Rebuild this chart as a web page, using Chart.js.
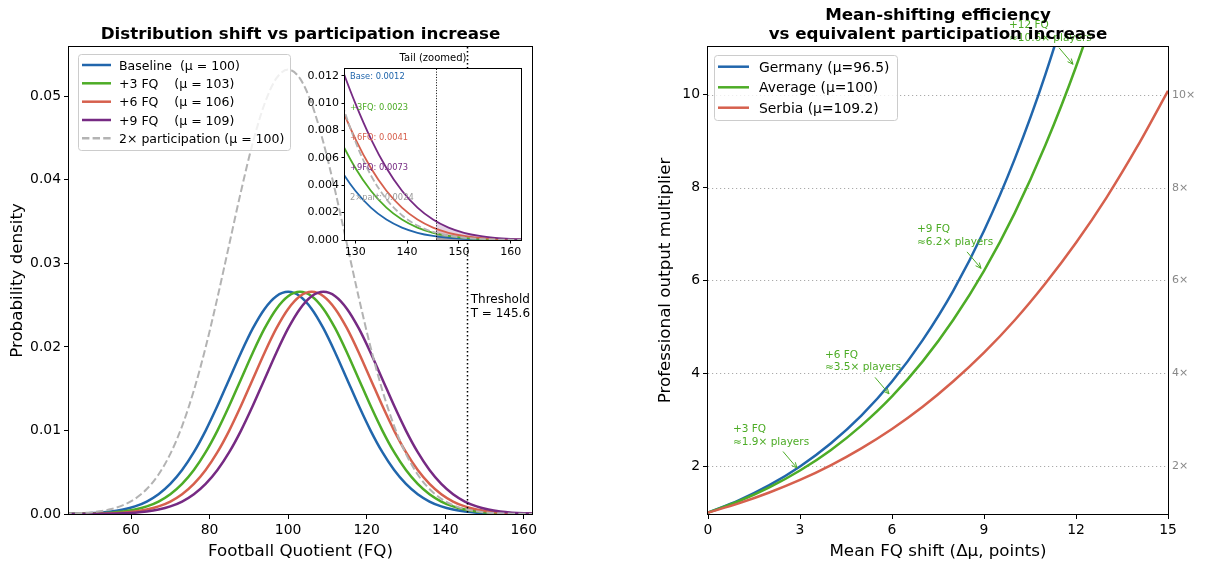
<!DOCTYPE html>
<html><head><meta charset="utf-8">
<script src="https://cdn.jsdelivr.net/npm/chart.js@4.4.0/dist/chart.umd.min.js"></script>
<style>
html,body{margin:0;padding:0;background:#fff;}
#wrap{position:relative;width:1205px;height:563px;overflow:hidden;background:#fff;}
canvas{position:absolute;}
</style></head><body>
<div id="wrap">
<canvas id="left" width="600" height="563" style="left:0;top:0;width:600px;height:563px"></canvas>
<canvas id="right" width="605" height="563" style="left:600px;top:0;width:605px;height:563px"></canvas>
<canvas id="inset" width="235" height="225" style="left:300px;top:45px;width:235px;height:225px"></canvas>
</div>
<script>
// ---------------- DATA ----------------
const fqGrid = [43,46,49,52,55,58,61,64,67,70,73,76,79,82,85,88,91,94,97,100,103,106,109,112,115,118,121,124,127,130,133,136,139,142,145,148,151,154,157,160,163];
const pdfBaseline = [0.0000195,0.0000408,0.0000822,0.000159,0.000295,0.000528,0.000906,0.001493,0.002365,0.003599,0.005263,0.007395,0.009982,0.012946,0.016132,0.019313,0.022215,0.024552,0.026070,0.026596,0.026070,0.024552,0.022215,0.019313,0.016132,0.012946,0.009982,0.007395,0.005263,0.003599,0.002365,0.001493,0.000906,0.000528,0.000295,0.000159,0.0000822,0.0000408,0.0000195,0.0000089,0.0000039];
const pdfPlus3 = [0.0000089,0.0000195,0.0000408,0.0000822,0.000159,0.000295,0.000528,0.000906,0.001493,0.002365,0.003599,0.005263,0.007395,0.009982,0.012946,0.016132,0.019313,0.022215,0.024552,0.026070,0.026596,0.026070,0.024552,0.022215,0.019313,0.016132,0.012946,0.009982,0.007395,0.005263,0.003599,0.002365,0.001493,0.000906,0.000528,0.000295,0.000159,0.0000822,0.0000408,0.0000195,0.0000089];
const pdfPlus6 = [0.0000039,0.0000089,0.0000195,0.0000408,0.0000822,0.000159,0.000295,0.000528,0.000906,0.001493,0.002365,0.003599,0.005263,0.007395,0.009982,0.012946,0.016132,0.019313,0.022215,0.024552,0.026070,0.026596,0.026070,0.024552,0.022215,0.019313,0.016132,0.012946,0.009982,0.007395,0.005263,0.003599,0.002365,0.001493,0.000906,0.000528,0.000295,0.000159,0.0000822,0.0000408,0.0000195];
const pdfPlus9 = [0.0000017,0.0000039,0.0000089,0.0000195,0.0000408,0.0000822,0.000159,0.000295,0.000528,0.000906,0.001493,0.002365,0.003599,0.005263,0.007395,0.009982,0.012946,0.016132,0.019313,0.022215,0.024552,0.026070,0.026596,0.026070,0.024552,0.022215,0.019313,0.016132,0.012946,0.009982,0.007395,0.005263,0.003599,0.002365,0.001493,0.000906,0.000528,0.000295,0.000159,0.0000822,0.0000408];
const pdfDouble = [0.000039,0.0000816,0.000164,0.000318,0.00059,0.001056,0.001812,0.002986,0.00473,0.007198,0.010526,0.01479,0.019964,0.025892,0.032264,0.038626,0.04443,0.049104,0.05214,0.053192,0.05214,0.049104,0.04443,0.038626,0.032264,0.025892,0.019964,0.01479,0.010526,0.007198,0.00473,0.002986,0.001812,0.001056,0.00059,0.000318,0.000164,0.0000816,0.000039,0.0000178,0.0000078];
// density of each curve exactly at the threshold (start of the shaded tail)
const pdfAtThreshold = [0.000262, 0.000472, 0.000816, 0.001355, 0.000524];
const seriesLabels = ["Baseline  (\u03bc = 100)", "+3 FQ    (\u03bc = 103)", "+6 FQ    (\u03bc = 106)", "+9 FQ    (\u03bc = 109)", "2\u00d7 participation (\u03bc = 100)"];
const thresholdFQ = 145.6;
const tailLabels = ["Base: 0.0012", "+3FQ: 0.0023", "+6FQ: 0.0041", "+9FQ: 0.0073", "2\u00d7part: 0.0024"];

const shiftGrid = [0,1,2,3,4,5,6,7,8,9,10,11,12,13,14,15];
const multGermany = [1,1.265,1.591,1.994,2.489,3.090,3.824,4.716,5.783,7.070,8.614,10.435,12.605,15.168,18.153,21.66];
const multAverage = [1,1.245,1.545,1.907,2.345,2.875,3.504,4.258,5.155,6.208,7.452,8.913,10.604,12.578,14.866,17.476];
const multSerbia  = [1,1.199,1.433,1.704,2.019,2.385,2.802,3.280,3.829,4.446,5.144,5.935,6.812,7.792,8.887,10.086];
const countryLabels = ["Germany (\u03bc=96.5)", "Average (\u03bc=100)", "Serbia (\u03bc=109.2)"];
const annotShifts = [3,6,9,12];
const annotTitles = ["+3 FQ","+6 FQ","+9 FQ","+12 FQ"];
const annotTexts = ["\u22481.9\u00d7 players","\u22483.5\u00d7 players","\u22486.2\u00d7 players","\u224810.6\u00d7 players"];

const leftXTicks = [60,80,100,120,140,160];
const leftXTickLabels = ["60","80","100","120","140","160"];
const leftYTicks = [0,0.01,0.02,0.03,0.04,0.05];
const leftYTickLabels = ["0.00","0.01","0.02","0.03","0.04","0.05"];
const insetXTicks = [130,140,150,160];
const insetXTickLabels = ["130","140","150","160"];
const insetYTicks = [0,0.002,0.004,0.006,0.008,0.010,0.012];
const insetYTickLabels = ["0.000","0.002","0.004","0.006","0.008","0.010","0.012"];
const rightXTicks = [0,3,6,9,12,15];
const rightXTickLabels = ["0","3","6","9","12","15"];
const rightYTicks = [2,4,6,8,10];
const rightYTickLabels = ["2","4","6","8","10"];
const rightSideLabels = ["2\u00d7","4\u00d7","6\u00d7","8\u00d7","10\u00d7"];

// ---------------- STYLE ----------------
const FONT = "'DejaVu Sans', sans-serif";
Chart.defaults.font.family = FONT;
Chart.defaults.color = '#000';
const C_BLUE = '#2166ac', C_GREEN = '#4dac26', C_RED = '#d6604d', C_PURPLE = '#762a83', C_GRAY = '#b3b3b3';
const seriesColors = [C_BLUE, C_GREEN, C_RED, C_PURPLE, C_GRAY];
const countryColors = [C_BLUE, C_GREEN, C_RED];

const toXY = (xs, ys) => xs.map((x, i) => ({x: x, y: ys[i]}));

function axis(min, max, ticks, labels, fitProp, fitVal, fontSize, tickLen, pad) {
  return {
    type: 'linear', min: min, max: max,
    afterFit: s => { s[fitProp] = fitVal; },
    afterBuildTicks: s => { s.ticks = ticks.map(v => ({value: v})); },
    ticks: { callback: v => labels[ticks.indexOf(v)], font: {size: fontSize}, color: '#000', maxRotation: 0, autoSkip: false, padding: pad },
    grid: { drawOnChartArea: false, drawTicks: true, tickLength: tickLen, tickColor: '#000', color: '#000', tickWidth: 1 },
    border: { display: false }
  };
}

function frame(ctx, a) {
  ctx.save();
  ctx.strokeStyle = '#000'; ctx.lineWidth = 1; ctx.setLineDash([]);
  ctx.strokeRect(Math.round(a.left) - 0.5, Math.round(a.top) - 0.5, Math.round(a.right - a.left) + 1, Math.round(a.bottom - a.top) + 1);
  ctx.restore();
}

function roundRect(ctx, x, y, w, h, r) {
  ctx.beginPath();
  ctx.moveTo(x + r, y); ctx.lineTo(x + w - r, y); ctx.quadraticCurveTo(x + w, y, x + w, y + r);
  ctx.lineTo(x + w, y + h - r); ctx.quadraticCurveTo(x + w, y + h, x + w - r, y + h);
  ctx.lineTo(x + r, y + h); ctx.quadraticCurveTo(x, y + h, x, y + h - r);
  ctx.lineTo(x, y + r); ctx.quadraticCurveTo(x, y, x + r, y);
  ctx.closePath();
}

function drawLegend(ctx, box, labels, colors, dashes, rowY, lineX0, lineX1, textX, fontSize) {
  ctx.save();
  roundRect(ctx, box.x + 0.5, box.y + 0.5, box.w, box.h, 3);
  ctx.fillStyle = 'rgba(255,255,255,0.8)'; ctx.fill();
  ctx.strokeStyle = '#cccccc'; ctx.lineWidth = 1; ctx.stroke();
  ctx.font = fontSize + 'px ' + FONT; ctx.fillStyle = '#000'; ctx.textAlign = 'left'; ctx.textBaseline = 'alphabetic';
  labels.forEach((lab, i) => {
    ctx.strokeStyle = colors[i]; ctx.lineWidth = 2.5; ctx.setLineDash(dashes[i] || []);
    ctx.beginPath(); ctx.moveTo(lineX0, rowY[i]); ctx.lineTo(lineX1, rowY[i]); ctx.stroke();
    ctx.fillText(lab, textX, rowY[i] + fontSize * 0.36);
  });
  ctx.restore();
}

// ---------------- LEFT CHART ----------------
const leftDatasets = [pdfBaseline, pdfPlus3, pdfPlus6, pdfPlus9, pdfDouble].map((ys, i) => ({
  label: seriesLabels[i], data: toXY(fqGrid, ys), borderColor: seriesColors[i],
  borderWidth: i === 4 ? 2 : 2.5, borderDash: i === 4 ? [7.4, 3.2] : [],
  pointRadius: 0, fill: false, clip: 0, order: 5 - i, cubicInterpolationMode: 'monotone'
}));

const leftDeco = {
  id: 'leftDeco',
  afterDatasetsDraw(chart) {
    const {ctx, chartArea: a, scales: {x}} = chart;
    const tx = Math.round(x.getPixelForValue(thresholdFQ)) + 0.5;
    ctx.save();
    ctx.strokeStyle = '#000'; ctx.lineWidth = 1.5; ctx.setLineDash([1.5, 2.5]);
    ctx.beginPath(); ctx.moveTo(tx, a.top); ctx.lineTo(tx, a.bottom); ctx.stroke();
    ctx.restore();
    frame(ctx, a);
  },
  afterDraw(chart) {
    const {ctx, chartArea: a, scales: {x}} = chart;
    const cx = (a.left + a.right) / 2;
    ctx.save();
    ctx.fillStyle = '#000';
    ctx.textAlign = 'center'; ctx.textBaseline = 'alphabetic';
    ctx.font = 'bold 16.7px ' + FONT;
    ctx.fillText('Distribution shift vs participation increase', cx, 39);
    ctx.font = '16.7px ' + FONT;
    ctx.fillText('Football Quotient (FQ)', cx, 556);
    ctx.save();
    ctx.translate(22, (a.top + a.bottom) / 2); ctx.rotate(-Math.PI / 2);
    ctx.fillText('Probability density', 0, 0);
    ctx.restore();
    ctx.textAlign = 'left'; ctx.font = '12px ' + FONT;
    const tx = x.getPixelForValue(thresholdFQ) + 3.5;
    ctx.fillText('Threshold', tx, 302.5);
    ctx.fillText('T = ' + thresholdFQ, tx, 316.5);
    ctx.restore();
    drawLegend(ctx, {x: 78, y: 54, w: 212, h: 96}, seriesLabels, seriesColors,
      [[], [], [], [], [7.4, 3.2]], [65, 83.3, 101.7, 120, 138.3], 82, 111, 119, 12.5);
  }
};

new Chart(document.getElementById('left'), {
  type: 'line',
  data: { datasets: leftDatasets },
  options: {
    responsive: false, animation: false, devicePixelRatio: 1,
    layout: { padding: { left: 0, right: 68, top: 47, bottom: 0 } },
    plugins: { legend: { display: false }, tooltip: { enabled: false }, title: { display: false } },
    scales: {
      x: axis(44.2, 162.1, leftXTicks, leftXTickLabels, 'height', 49, 13.9, 5, 3),
      y: axis(0, 0.0559, leftYTicks, leftYTickLabels, 'width', 69, 13.9, 5, 3)
    }
  },
  plugins: [leftDeco]
});

// ---------------- INSET ----------------
const insetSeries = [pdfBaseline, pdfPlus3, pdfPlus6, pdfPlus9, pdfDouble];
const insetFillColors = ['rgba(33,102,172,0.2)', 'rgba(77,172,38,0.2)', 'rgba(214,96,77,0.2)', 'rgba(118,42,131,0.2)', 'rgba(160,160,160,0.2)'];
const insetDatasets = [];
insetSeries.forEach((ys, i) => {
  const tail = [{x: thresholdFQ, y: pdfAtThreshold[i]}].concat(toXY(fqGrid, ys).filter(p => p.x > thresholdFQ));
  insetDatasets.push({
    data: tail, borderWidth: 0, borderColor: 'rgba(0,0,0,0)',
    backgroundColor: insetFillColors[i], fill: 'origin', pointRadius: 0, clip: 0,
    order: 20 - i, cubicInterpolationMode: 'monotone'
  });
});
insetSeries.forEach((ys, i) => insetDatasets.push({
  data: toXY(fqGrid, ys), borderColor: seriesColors[i], borderWidth: 1.8,
  borderDash: i === 4 ? [6.6, 2.9] : [], fill: false, pointRadius: 0, clip: 0,
  order: 10 - i, cubicInterpolationMode: 'monotone'
}));

const insetDeco = {
  id: 'insetDeco',
  beforeDraw(chart) {
    const {ctx, chartArea: a} = chart;
    ctx.save(); ctx.fillStyle = '#fff'; ctx.fillRect(a.left, a.top, a.right - a.left, a.bottom - a.top); ctx.restore();
  },
  afterDatasetsDraw(chart) {
    const {ctx, chartArea: a, scales: {x}} = chart;
    const tx = Math.round(x.getPixelForValue(thresholdFQ)) + 0.5;
    ctx.save();
    ctx.strokeStyle = '#000'; ctx.lineWidth = 1; ctx.setLineDash([1, 1.65]);
    ctx.beginPath(); ctx.moveTo(tx, a.top); ctx.lineTo(tx, a.bottom); ctx.stroke();
    ctx.restore();
    ctx.save();
    ctx.font = '8.3px ' + FONT; ctx.textAlign = 'left'; ctx.textBaseline = 'middle';
    const offs = [8, 38.7, 69, 98.7, 128.7];
    const cols = [C_BLUE, C_GREEN, C_RED, C_PURPLE, '#9a9a9a'];
    tailLabels.forEach((t, i) => { ctx.fillStyle = cols[i]; ctx.fillText(t, a.left + 5, a.top + offs[i]); });
    ctx.restore();
    frame(ctx, a);
  },
  afterDraw(chart) {
    const {ctx, chartArea: a} = chart;
    ctx.save();
    ctx.font = '10px ' + FONT; ctx.fillStyle = '#000'; ctx.textAlign = 'center'; ctx.textBaseline = 'alphabetic';
    ctx.fillText('Tail (zoomed)', (a.left + a.right) / 2, a.top - 8.5);
    ctx.restore();
  }
};

new Chart(document.getElementById('inset'), {
  type: 'line',
  data: { datasets: insetDatasets },
  options: {
    responsive: false, animation: false, devicePixelRatio: 1,
    layout: { padding: { left: 0, right: 14, top: 24, bottom: 0 } },
    plugins: { legend: { display: false }, tooltip: { enabled: false }, filler: { propagate: false } },
    scales: {
      x: axis(128, 162, insetXTicks, insetXTickLabels, 'height', 30, 11, 3.5, 2),
      y: axis(0, 0.0125, insetYTicks, insetYTickLabels, 'width', 45, 11, 3.5, 2.5)
    }
  },
  plugins: [insetDeco]
});

// ---------------- RIGHT CHART ----------------
const rightDatasets = [multGermany, multAverage, multSerbia].map((ys, i) => ({
  label: countryLabels[i], data: toXY(shiftGrid, ys), borderColor: countryColors[i],
  borderWidth: 2.5, pointRadius: 0, fill: false, clip: 0, order: 3 - i, cubicInterpolationMode: 'monotone'
}));

function arrow(ctx, x0, y0, x1, y1, color) {
  ctx.strokeStyle = color; ctx.lineWidth = 1; ctx.setLineDash([]);
  ctx.beginPath(); ctx.moveTo(x0, y0); ctx.lineTo(x1, y1); ctx.stroke();
  const ang = Math.atan2(y1 - y0, x1 - x0), L = 6, w = 0.42;
  ctx.beginPath();
  ctx.moveTo(x1 - L * Math.cos(ang - w), y1 - L * Math.sin(ang - w));
  ctx.lineTo(x1, y1);
  ctx.lineTo(x1 - L * Math.cos(ang + w), y1 - L * Math.sin(ang + w));
  ctx.stroke();
}

const rightDeco = {
  id: 'rightDeco',
  beforeDatasetsDraw(chart) {
    const {ctx, chartArea: a, scales: {y}} = chart;
    ctx.save();
    ctx.strokeStyle = '#aaaaaa'; ctx.lineWidth = 1; ctx.setLineDash([1.2, 2.8]);
    rightYTicks.forEach(v => {
      const py = Math.round(y.getPixelForValue(v)) + 0.5;
      ctx.beginPath(); ctx.moveTo(a.left, py); ctx.lineTo(a.right, py); ctx.stroke();
    });
    ctx.restore();
  },
  afterDatasetsDraw(chart) {
    const {ctx, chartArea: a, scales: {x, y}} = chart;
    ctx.save();
    ctx.font = '10.5px ' + FONT; ctx.textAlign = 'left'; ctx.textBaseline = 'alphabetic';
    annotShifts.forEach((s, i) => {
      const px = x.getPixelForValue(s);
      const py = y.getPixelForValue(multAverage[shiftGrid.indexOf(s)]);
      ctx.fillStyle = C_GREEN;
      ctx.fillText(annotTitles[i], px - 67, py - 38.7);
      ctx.fillText(annotTexts[i], px - 67, py - 26);
      arrow(ctx, px - 17, py - 19, px - 3, py - 2.5, C_GREEN);
    });
    ctx.restore();
    frame(ctx, a);
  },
  afterDraw(chart) {
    const {ctx, chartArea: a, scales: {y}} = chart;
    const cx = (a.left + a.right) / 2;
    ctx.save();
    ctx.fillStyle = '#000'; ctx.textAlign = 'center'; ctx.textBaseline = 'alphabetic';
    ctx.font = 'bold 16.7px ' + FONT;
    ctx.fillText('Mean-shifting efficiency', cx, 20);
    ctx.fillText('vs equivalent participation increase', cx, 39);
    ctx.font = '16.7px ' + FONT;
    ctx.fillText('Mean FQ shift (\u0394\u03bc, points)', cx, 556);
    ctx.save();
    ctx.translate(70, (a.top + a.bottom) / 2); ctx.rotate(-Math.PI / 2);
    ctx.fillText('Professional output multiplier', 0, 0);
    ctx.restore();
    ctx.font = '11px ' + FONT; ctx.fillStyle = '#888888'; ctx.textAlign = 'left'; ctx.textBaseline = 'middle';
    rightYTicks.forEach((v, i) => ctx.fillText(rightSideLabels[i], a.right + 4, y.getPixelForValue(v)));
    ctx.restore();
    drawLegend(ctx, {x: 114, y: 55, w: 183, h: 65}, countryLabels, countryColors,
      [[], [], []], [66.7, 87.3, 107.7], 118, 149, 159, 13.9);
  }
};

new Chart(document.getElementById('right'), {
  type: 'line',
  data: { datasets: rightDatasets },
  options: {
    responsive: false, animation: false, devicePixelRatio: 1,
    layout: { padding: { left: 0, right: 37, top: 47, bottom: 0 } },
    plugins: { legend: { display: false }, tooltip: { enabled: false } },
    scales: {
      x: axis(0, 15, rightXTicks, rightXTickLabels, 'height', 49, 13.9, 5, 3),
      y: axis(0.97, 11.03, rightYTicks, rightYTickLabels, 'width', 108, 13.9, 5, 3)
    }
  },
  plugins: [rightDeco]
});
</script>
</body></html>
